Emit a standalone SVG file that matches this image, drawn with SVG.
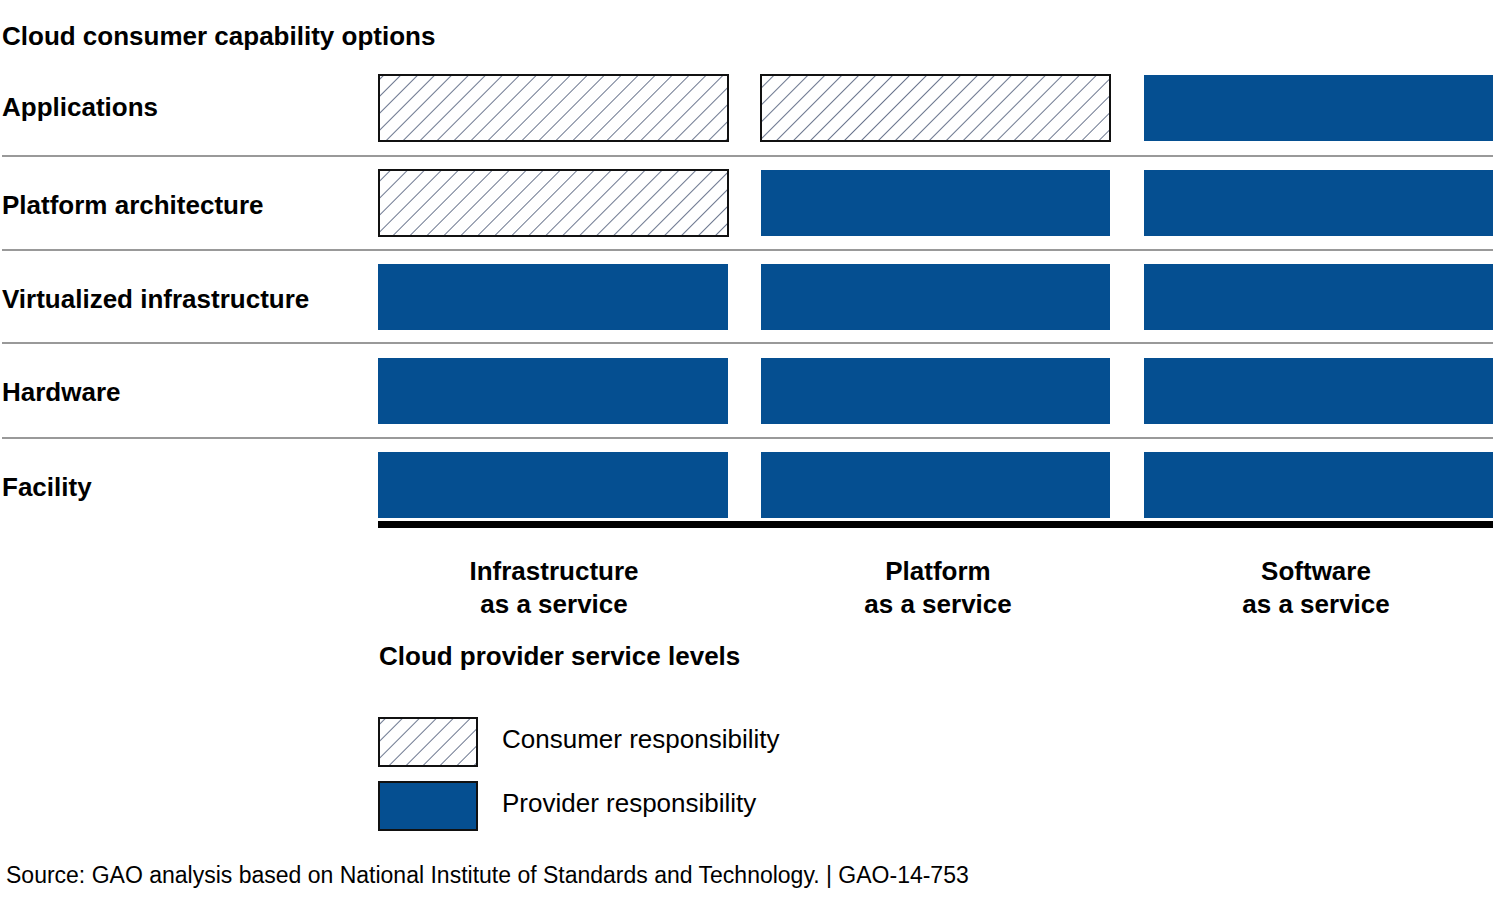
<svg xmlns="http://www.w3.org/2000/svg" width="1495" height="906" viewBox="0 0 1495 906">
<style>
.t{font-family:"Liberation Sans",Arial,sans-serif;fill:#000}
.b{font-weight:bold;font-size:26px}
.p{fill:#054f91}
.h{fill:url(#hatch);stroke:#111;stroke-width:2}
.sep{stroke:#999;stroke-width:2}
</style>
<defs>
<pattern id="hatch" width="12" height="12" patternUnits="userSpaceOnUse" patternTransform="rotate(45)">
<rect width="12" height="12" fill="#fff"/>
<line x1="0" y1="0" x2="0" y2="12" stroke="#3a4a6a" stroke-width="1.5"/>
</pattern>
</defs>
<rect width="1495" height="906" fill="#fff"/>
<text class="t b" x="2" y="45">Cloud consumer capability options</text>
<g id="labels">
<text class="t b" x="2" y="116">Applications</text>
<text class="t b" x="2" y="214">Platform architecture</text>
<text class="t b" x="2" y="308">Virtualized infrastructure</text>
<text class="t b" x="2" y="401">Hardware</text>
<text class="t b" x="2" y="496">Facility</text>
</g>
<g id="separators">
<line class="sep" x1="2" y1="156" x2="1493" y2="156"/>
<line class="sep" x1="2" y1="250" x2="1493" y2="250"/>
<line class="sep" x1="2" y1="343" x2="1493" y2="343"/>
<line class="sep" x1="2" y1="438" x2="1493" y2="438"/>
</g>
<g id="iaas">
<rect class="h" x="379" y="75" width="349" height="66"/>
<rect class="h" x="379" y="170" width="349" height="66"/>
<rect class="p" x="378" y="264" width="350" height="66"/>
<rect class="p" x="378" y="358" width="350" height="66"/>
<rect class="p" x="378" y="452" width="350" height="66"/>
</g>
<g id="paas">
<rect class="h" x="761" y="75" width="349" height="66"/>
<rect class="p" x="761" y="170" width="349" height="66"/>
<rect class="p" x="761" y="264" width="349" height="66"/>
<rect class="p" x="761" y="358" width="349" height="66"/>
<rect class="p" x="761" y="452" width="349" height="66"/>
</g>
<g id="saas">
<rect class="p" x="1144" y="75" width="349" height="66"/>
<rect class="p" x="1144" y="170" width="349" height="66"/>
<rect class="p" x="1144" y="264" width="349" height="66"/>
<rect class="p" x="1144" y="358" width="349" height="66"/>
<rect class="p" x="1144" y="452" width="349" height="66"/>
</g>
<rect x="378" y="521" width="1115" height="7" fill="#000"/>
<g id="columns" text-anchor="middle">
<text class="t b" x="554" y="580">Infrastructure</text>
<text class="t b" x="554" y="613">as a service</text>
<text class="t b" x="938" y="580">Platform</text>
<text class="t b" x="938" y="613">as a service</text>
<text class="t b" x="1316" y="580">Software</text>
<text class="t b" x="1316" y="613">as a service</text>
</g>
<text class="t b" x="379" y="665">Cloud provider service levels</text>
<g id="legend">
<rect class="h" x="379" y="718" width="98" height="48"/>
<text class="t" x="502" y="748" font-size="26">Consumer responsibility</text>
<rect class="p" x="379" y="782" width="98" height="48" stroke="#111" stroke-width="2"/>
<text class="t" x="502" y="812" font-size="26">Provider responsibility</text>
</g>
<text class="t" x="6" y="883" font-size="23">Source: GAO analysis based on National Institute of Standards and Technology.  |  GAO-14-753</text>
</svg>
